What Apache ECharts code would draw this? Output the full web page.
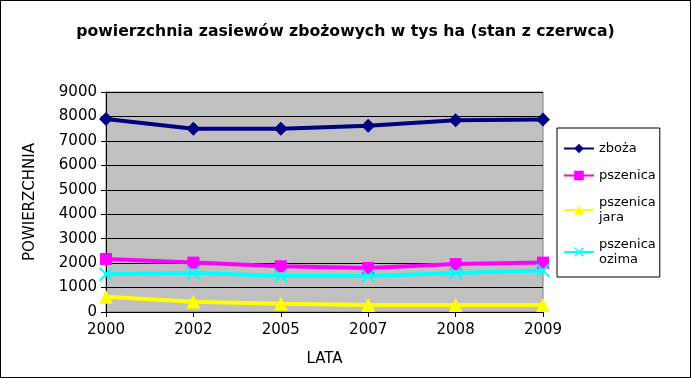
<!DOCTYPE html>
<html>
<head>
<meta charset="utf-8">
<script src="https://cdn.jsdelivr.net/npm/echarts@6/dist/echarts.min.js"></script>
<style>
  html, body { margin: 0; padding: 0; background: #fff; }
  #chart { width: 691px; height: 378px; box-sizing: border-box; border: 1px solid #000; }
</style>
</head>
<body>
<div id="chart"></div>
<script>
  const years = ['2000', '2002', '2005', '2007', '2008', '2009'];
  const zboza = [7900, 7500, 7500, 7620, 7840, 7870];
  const pszenica = [2170, 2020, 1870, 1800, 1960, 2020];
  const pszenicaJara = [620, 420, 340, 290, 290, 290];
  const pszenicaOzima = [1540, 1610, 1470, 1470, 1600, 1700];

  const font = 'DejaVu Sans';
  const crossPath = 'path://M0,1 L1,0 L5,4 L9,0 L10,1 L6,5 L10,9 L9,10 L5,6 L1,10 L0,9 L4,5 Z';

  const chart = echarts.init(document.getElementById('chart'));

  const line = (name, data, color, symbol, size) => ({
    name: name,
    type: 'line',
    data: data,
    symbol: symbol,
    symbolSize: size,
    showAllSymbol: true,
    lineStyle: { color: color, width: 4 },
    itemStyle: { color: color },
    emphasis: { disabled: true }
  });

  chart.setOption({
    animation: false,
    textStyle: { fontFamily: font },
    title: {
      text: 'powierzchnia zasiewów zbożowych w tys ha (stan z czerwca)',
      left: 'center',
      top: 18,
      textStyle: { fontFamily: font, fontSize: 15.7, fontWeight: 'bold', color: '#000' }
    },
    legend: {
      orient: 'vertical',
      left: 556,
      top: 127,
      padding: [13, 4, 10, 6],
      borderColor: '#000',
      borderWidth: 1,
      itemWidth: 30,
      itemHeight: 12,
      itemGap: 12,
      textStyle: { fontFamily: font, fontSize: 13, color: '#000', lineHeight: 15 },
      data: ['zboża', 'pszenica', 'pszenica\njara', 'pszenica\nozima']
    },
    grid: {
      left: 105,
      top: 91,
      width: 437,
      height: 220,
      show: true,
      backgroundColor: '#c0c0c0',
      borderColor: '#808080',
      borderWidth: 1
    },
    xAxis: {
      type: 'category',
      data: years,
      boundaryGap: false,
      name: 'LATA',
      nameLocation: 'middle',
      nameGap: 40,
      nameTextStyle: { fontFamily: font, fontSize: 15, color: '#000' },
      axisLine: { lineStyle: { color: '#000', width: 1 } },
      axisTick: { show: true, length: 5, lineStyle: { color: '#000' } },
      axisLabel: { fontFamily: font, fontSize: 15, color: '#000', margin: 11 },
      splitLine: { show: false }
    },
    yAxis: {
      type: 'value',
      min: 0,
      max: 9000,
      interval: 1000,
      name: 'POWIERZCHNIA',
      nameLocation: 'middle',
      nameGap: 68,
      nameTextStyle: { fontFamily: font, fontSize: 15, color: '#000' },
      axisLine: { show: true, lineStyle: { color: '#000', width: 1 } },
      axisTick: { show: true, length: 5, lineStyle: { color: '#000' } },
      axisLabel: { fontFamily: font, fontSize: 15, color: '#000', margin: 9, formatter: v => String(v) },
      splitLine: { show: true, lineStyle: { color: '#000', width: 1 } }
    },
    series: [
      line('zboża', zboza, '#000080', 'diamond', 14),
      line('pszenica', pszenica, '#ff00ff', 'rect', 12),
      line('pszenica\njara', pszenicaJara, '#ffff00', 'triangle', 14),
      line('pszenica\nozima', pszenicaOzima, '#00ffff', crossPath, 14)
    ]
  });
</script>
</body>
</html>
